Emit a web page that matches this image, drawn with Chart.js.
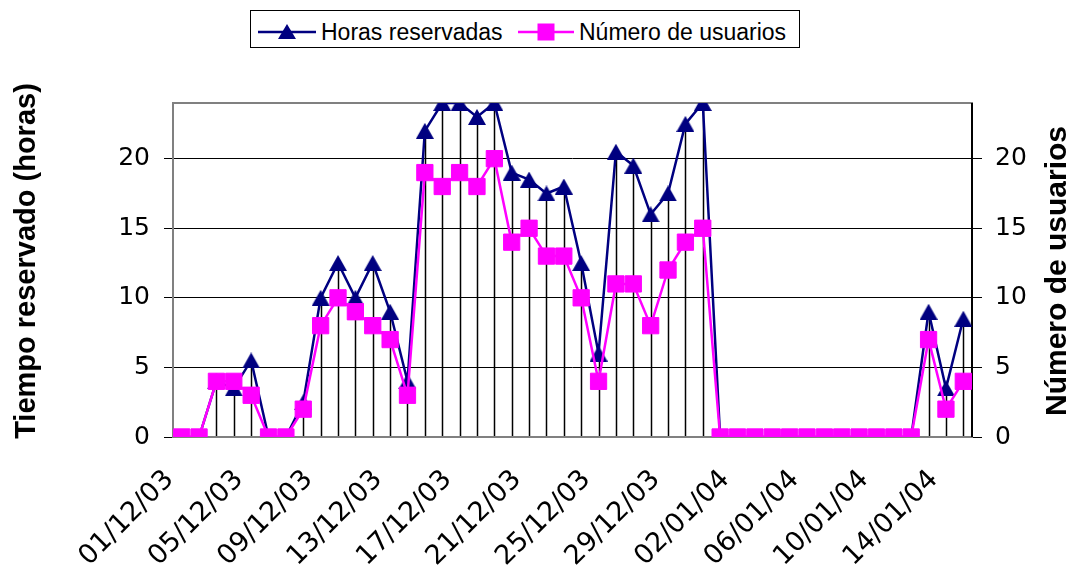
<!DOCTYPE html>
<html>
<head>
<meta charset="utf-8">
<script src="https://cdn.jsdelivr.net/npm/chart.js@4"></script>
<style>
  body { margin: 0; background: #fff; }
  #wrap { position: relative; width: 1073px; height: 570px; }
  #legendBox { position: absolute; left: 250px; top: 10px; width: 550px; height: 38px; border: 1px solid #000; box-sizing: border-box; background: #fff; }
  .lg { position: absolute; font: 23px "Liberation Sans", Arial, sans-serif; line-height: 23px; color: #000; white-space: nowrap; }
  .ico { position: absolute; }
</style>
</head>
<body>
<div id="wrap">
  <canvas id="chart" width="1073" height="570"></canvas>
  <div id="legendBox"></div>
  <svg class="ico" style="left:258px; top:22px" width="58" height="20">
    <line x1="0" y1="10" x2="58" y2="10" stroke="#000080" stroke-width="2.5"/>
    <polygon points="29,2 38,17 20,17" fill="#000080"/>
  </svg>
  <div class="lg" style="left:321px; top:21px">Horas reservadas</div>
  <svg class="ico" style="left:518px; top:22px" width="56" height="20">
    <line x1="0" y1="10" x2="56" y2="10" stroke="#ff00ff" stroke-width="2.5"/>
    <rect x="19.5" y="1.5" width="17" height="17" fill="#ff00ff"/>
  </svg>
  <div class="lg" style="left:579px; top:21px">Número de usuarios</div>
</div>
<script>
// Fechas (una por día)
const fechas = [
  "01/12/03", "02/12/03", "03/12/03", "04/12/03", "05/12/03", "06/12/03", "07/12/03", "08/12/03",
  "09/12/03", "10/12/03", "11/12/03", "12/12/03", "13/12/03", "14/12/03", "15/12/03", "16/12/03",
  "17/12/03", "18/12/03", "19/12/03", "20/12/03", "21/12/03", "22/12/03", "23/12/03", "24/12/03",
  "25/12/03", "26/12/03", "27/12/03", "28/12/03", "29/12/03", "30/12/03", "31/12/03", "01/01/04",
  "02/01/04", "03/01/04", "04/01/04", "05/01/04", "06/01/04", "07/01/04", "08/01/04", "09/01/04",
  "10/01/04", "11/01/04", "12/01/04", "13/01/04", "14/01/04", "15/01/04",
];

const horasReservadas = [
  0, 0, 4, 3.5, 5.5, 0, 0, 2.5, 10, 12.5,
  10, 12.5, 9, 4, 22, 24, 24, 23, 24, 19,
  18.5, 17.5, 18, 12.5, 6, 20.5, 19.5, 16, 17.5, 22.5,
  24, 0, 0, 0, 0, 0, 0, 0, 0, 0,
  0, 0, 0, 9, 3.5, 8.5,
];

const numeroUsuarios = [
  0, 0, 4, 4, 3, 0, 0, 2, 8, 10,
  9, 8, 7, 3, 19, 18, 19, 18, 20, 14,
  15, 13, 13, 10, 4, 11, 11, 8, 12, 14,
  15, 0, 0, 0, 0, 0, 0, 0, 0, 0,
  0, 0, 0, 7, 2, 4,
];

const ejeMax = 24;
const ejePaso = 5;
const cadaEtiqueta = 4; // una etiqueta de fecha cada 4 días

// Triángulo centrado en su caja, como el marcador de Excel
function crearTriangulo(color, w, h) {
  const c = document.createElement("canvas");
  c.width = w;
  c.height = h;
  const g = c.getContext("2d");
  g.fillStyle = color;
  g.beginPath();
  g.moveTo(w / 2, 0);
  g.lineTo(w, h);
  g.lineTo(0, h);
  g.closePath();
  g.fill();
  return c;
}

// Líneas de caída, marco del área y títulos de los ejes
const extras = {
  id: "extras",
  beforeDatasetsDraw(chart) {
    const { ctx, chartArea } = chart;
    const metas = chart.getSortedVisibleDatasetMetas();
    ctx.save();
    ctx.strokeStyle = "#000";
    ctx.lineWidth = 1.5;
    for (let i = 0; i < fechas.length; i++) {
      let top = chartArea.bottom;
      metas.forEach((m) => {
        if (m.data[i]) top = Math.min(top, m.data[i].y);
      });
      if (top < chartArea.bottom - 0.5) {
        const x = Math.round(metas[0].data[i].x) + 0.5;
        ctx.beginPath();
        ctx.moveTo(x, top);
        ctx.lineTo(x, chartArea.bottom);
        ctx.stroke();
      }
    }
    // marco
    ctx.strokeStyle = "#808080";
    ctx.lineWidth = 2;
    ctx.strokeRect(chartArea.left, chartArea.top, chartArea.right - chartArea.left, chartArea.bottom - chartArea.top);
    ctx.strokeStyle = "#000";
    ctx.beginPath();
    ctx.moveTo(chartArea.right, chartArea.top);
    ctx.lineTo(chartArea.right, chartArea.bottom);
    ctx.stroke();
    ctx.restore();
  },
  afterDraw(chart) {
    const { ctx, chartArea } = chart;
    const midY = (chartArea.top + chartArea.bottom) / 2;
    ctx.save();
    ctx.fillStyle = "#000";
    ctx.textAlign = "center";
    ctx.textBaseline = "alphabetic";
    ctx.font = "bold 29px 'Liberation Sans', Arial, sans-serif";
    ctx.translate(35, midY - 9);
    ctx.rotate(-Math.PI / 2);
    ctx.fillText("Tiempo reservado (horas)", 0, 0);
    ctx.restore();

    ctx.save();
    ctx.fillStyle = "#000";
    ctx.textAlign = "center";
    ctx.textBaseline = "alphabetic";
    ctx.font = "bold 30px 'Liberation Sans', Arial, sans-serif";
    ctx.translate(1066, midY + 1);
    ctx.rotate(-Math.PI / 2);
    ctx.fillText("Número de usuarios", 0, 0);
    ctx.restore();
  },
};

const yTickFont = { family: "'DejaVu Sans', sans-serif", size: 25 };
const xTickFont = { family: "'DejaVu Sans', sans-serif", size: 27 };

new Chart(document.getElementById("chart"), {
  type: "line",
  data: {
    labels: fechas,
    datasets: [
      {
        label: "Horas reservadas",
        data: horasReservadas,
        yAxisID: "y",
        borderColor: "#000080",
        backgroundColor: "#000080",
        borderWidth: 2.5,
        pointStyle: crearTriangulo("#000080", 18, 16),
        pointRadius: 9,
        tension: 0,
        order: 1,
      },
      {
        label: "Número de usuarios",
        data: numeroUsuarios,
        yAxisID: "y1",
        borderColor: "#ff00ff",
        backgroundColor: "#ff00ff",
        borderWidth: 2.5,
        pointStyle: "rect",
        pointRadius: 11.5,
        pointBorderWidth: 1,
        tension: 0,
        order: 0,
      },
    ],
  },
  plugins: [extras],
  options: {
    responsive: false,
    animation: false,
    layout: { padding: { top: 103, left: 0, right: 0, bottom: 0 } },
    plugins: { legend: { display: false }, tooltip: { enabled: false } },
    scales: {
      x: {
        offset: true,
        grid: { display: false, drawTicks: false },
        border: { display: false },
        ticks: {
          autoSkip: false,
          maxRotation: 45,
          minRotation: 45,
          padding: 27,
          labelOffset: -12,
          color: "#000",
          font: xTickFont,
          callback: function (value, index) {
            return index % cadaEtiqueta === 0 ? fechas[index] : "";
          },
        },
        afterFit: (scale) => { scale.height = 133; },
      },
      y: {
        position: "left",
        min: 0,
        max: ejeMax,
        border: { display: false },
        grid: { color: "#000", lineWidth: 1, tickLength: 9 },
        ticks: { stepSize: ejePaso, includeBounds: false, padding: 14, color: "#000", font: yTickFont },
        afterFit: (scale) => { scale.width = 173; },
      },
      y1: {
        position: "right",
        min: 0,
        max: ejeMax,
        border: { display: false },
        grid: { drawOnChartArea: false, color: "#000", lineWidth: 1, tickLength: 10 },
        ticks: { stepSize: ejePaso, includeBounds: false, padding: 13, color: "#000", font: yTickFont },
        afterFit: (scale) => { scale.width = 101; },
      },
    },
  },
});
</script>
</body>
</html>
